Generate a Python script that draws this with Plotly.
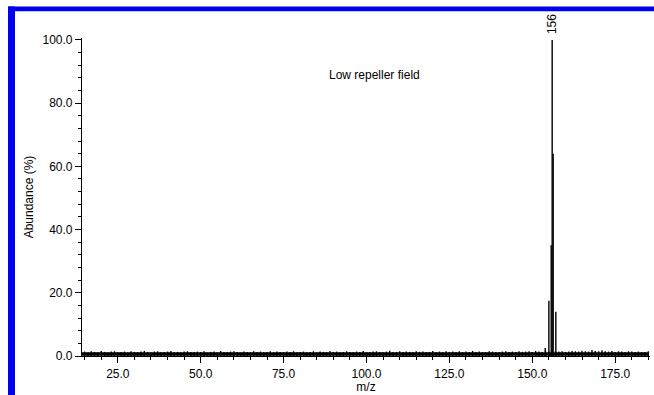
import plotly.graph_objects as go

# ---- data ----
noise_start = 14
noise_values = [
    0.9, 1.1, 0.8, 1.2, 1.0, 0.9, 1.3, 1.0, 0.8, 1.1, 1.2, 0.9, 1.0, 1.1, 0.8, 1.2, 1.0, 0.9, 1.1, 1.3,
    1.0, 0.8, 1.1, 1.2, 0.9, 1.0, 1.1, 1.3, 0.9, 1.0, 0.8, 1.1, 1.2, 1.0, 0.9, 1.1, 1.0, 1.2, 0.8, 1.0,
    1.1, 0.9, 1.3, 1.0, 0.9, 1.1, 1.2, 1.0, 0.8, 1.1, 1.0, 0.9, 1.2, 1.0, 1.1, 0.9, 1.0, 1.2, 0.8, 1.1,
    1.0, 0.9, 1.1, 1.0, 1.2, 0.9, 1.0, 1.1, 0.8, 1.0, 1.2, 0.9, 1.1, 1.0, 0.9, 1.3, 1.0, 1.1, 0.9, 1.0,
    1.2, 1.0, 0.9, 1.1, 1.0, 1.3, 0.9, 1.0, 1.1, 1.2, 1.0, 0.9, 1.1, 1.4, 1.0, 0.9, 1.2, 1.0, 1.1, 1.0,
    0.9, 1.2, 1.0, 1.1, 0.9, 1.0, 1.3, 1.0, 1.1, 0.9, 1.2, 1.0, 1.1, 1.0, 1.2, 0.9, 1.1, 1.0, 1.3, 1.0,
    1.1, 0.9, 1.0, 1.2, 1.1, 1.0, 0.9, 1.1, 1.2, 1.0, 1.1, 1.0, 1.2, 1.0, 1.1, 1.2, 1.0, 1.3, 1.1, 1.0,
    1.2, 1.1, 1.0, 1.3, 1.1, 1.2, 1.0, 1.1, 1.3, 1.2, 1.1, 1.4, 1.2, 1.1, 1.6, 1.3, 1.2, 1.5, 1.2, 1.1,
    1.3, 1.0, 1.2, 1.1, 1.0, 1.2, 1.1, 1.0, 1.1, 0.9, 1.0, 1.2,
]
peak_mz = [153.9, 155.0, 155.7, 156.0, 156.3, 157.1]
peak_abundance = [2.5, 17.5, 35.0, 100.0, 64.0, 14.0]
base_peak_label = "156"
base_peak_mz = 156.0
base_peak_value = 100.0

x_ticks = [25, 50, 75, 100, 125, 150, 175]
y_ticks = [0, 20, 40, 60, 80, 100]

# ---- build stick spectrum ----
noise_mz = [noise_start + i for i in range(len(noise_values))]
xs, ys = [], []
for mz, v in zip(noise_mz, noise_values):
    xs += [mz, mz, None]
    ys += [0, v + 0.3, None]
for mz, v in zip(peak_mz, peak_abundance):
    xs += [mz, mz, None]
    ys += [0, v, None]

fig = go.Figure()
fig.add_trace(go.Scatter(x=xs, y=ys, mode="lines", line=dict(color="black", width=1.4),
                         hoverinfo="skip", showlegend=False))
# baseline band
fig.add_trace(go.Scatter(x=[noise_mz[0], noise_mz[-1]], y=[0.6, 0.6], mode="lines",
                         line=dict(color="black", width=3.5), hoverinfo="skip", showlegend=False))

L, R, T, B = 82, 4, 38, 35
W, H = 654, 395
pw, ph = W - L - R, H - T - B

def px_x(p):
    return (p - L) / pw

def px_y(p):
    return (H - B - p) / ph

font = dict(family="Liberation Sans, Arial, sans-serif", size=12, color="black")

fig.update_layout(
    width=W, height=H,
    margin=dict(l=L, r=R, t=T, b=B),
    paper_bgcolor="white", plot_bgcolor="white",
    font=font,
    showlegend=False,
    xaxis=dict(range=[14.2, 185.5], tickvals=x_ticks, tickformat=".1f",
               ticks="outside", ticklen=6, tickwidth=1.2, tickcolor="black",
               showline=True, linecolor="black", linewidth=1.2,
               showgrid=False, zeroline=False,
               minor=dict(dtick=5, tick0=0, ticks="outside", ticklen=3, tickcolor="black", showgrid=False),
               title=dict(text="m/z", standoff=2, font=dict(size=12))),
    yaxis=dict(range=[0, 100.6], tickvals=y_ticks, tickformat=".1f",
               ticks="outside", ticklen=6, tickwidth=1.2, tickcolor="black",
               showline=True, linecolor="black", linewidth=1.2,
               showgrid=False, zeroline=False,
               minor=dict(dtick=4, tick0=0, ticks="outside", ticklen=3, tickcolor="black", showgrid=False),
               title=dict(text="Abundance (%)", standoff=6, font=dict(size=12))),
    annotations=[
        dict(x=102.5, y=89, xref="x", yref="y", text="Low repeller field", showarrow=False,
             font=dict(size=12)),
        dict(x=base_peak_mz, y=base_peak_value, xref="x", yref="y", text=base_peak_label,
             textangle=-90, showarrow=False, yanchor="bottom", yshift=4, font=dict(size=12)),
    ],
    shapes=[
        dict(type="rect", xref="paper", yref="paper", x0=px_x(8), x1=px_x(654), y0=px_y(11), y1=px_y(6),
             fillcolor="#0000ee", line=dict(width=0), layer="above"),
        dict(type="rect", xref="paper", yref="paper", x0=px_x(8), x1=px_x(15), y0=px_y(400), y1=px_y(6),
             fillcolor="#0000ee", line=dict(width=0), layer="above"),
    ],
)

fig.write_html("out.html")
